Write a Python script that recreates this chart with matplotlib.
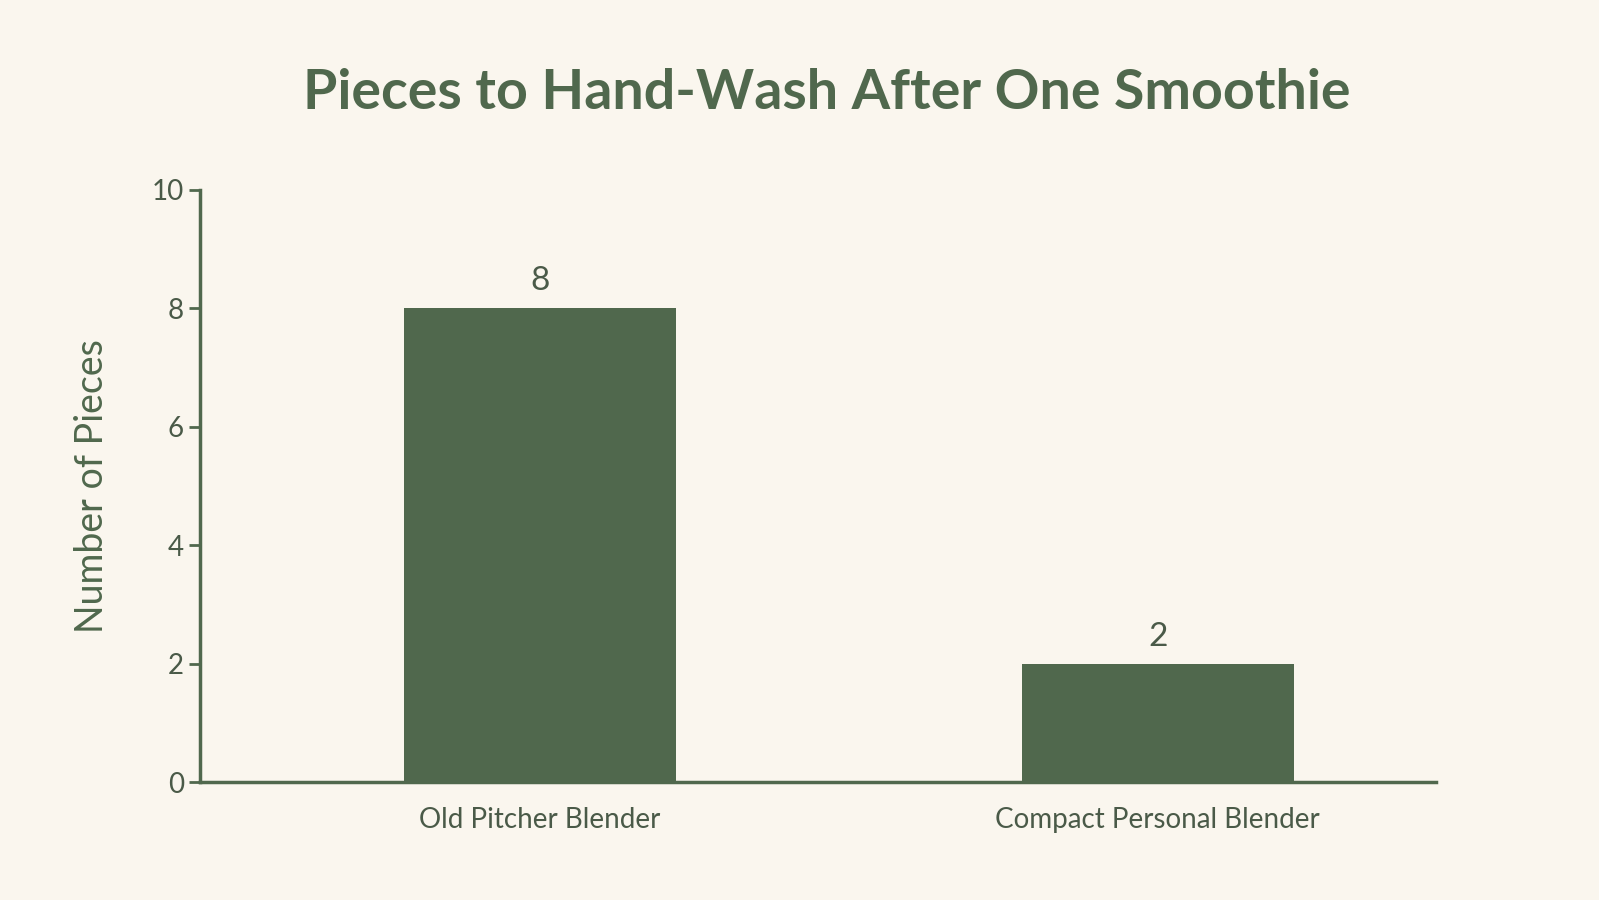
import matplotlib
matplotlib.use("Agg")
import matplotlib.pyplot as plt

categories = ["Old Pitcher Blender", "Compact Personal Blender"]
values = [8, 2]
yticks = [0, 2, 4, 6, 8, 10]

bg = "#faf6ee"
green = "#50684d"
text = "#4a5a48"

plt.rcParams['font.family'] = ['Lato', 'DejaVu Sans']
fig = plt.figure(figsize=(15.99, 9.0), dpi=100, facecolor=bg)
ax = fig.add_axes([0.125, 0.131, 0.773, 0.658], facecolor=bg)
x = [0, 1]
ax.bar(x, values, width=0.44, color=green)
for xi, v in zip(x, values):
    ax.text(xi, v + 0.2, str(v), ha='center', va='bottom', fontsize=24, color=text)
ax.set_xlim(-0.55, 1.45)
ax.set_ylim(0, 10)
ax.set_yticks(yticks)
ax.set_xticks(x)
ax.set_xticklabels(categories)
ax.tick_params(axis='both', colors=green, labelcolor=text, labelsize=20, length=8, width=2)
ax.tick_params(axis='x', length=0, pad=18)
for s in ['top', 'right']:
    ax.spines[s].set_visible(False)
for s in ['left', 'bottom']:
    ax.spines[s].set_color(green)
    ax.spines[s].set_linewidth(2.5)
ax.set_ylabel("Number of Pieces", fontsize=27, color=green, labelpad=30)
fig.text(0.517, 0.897, "Pieces to Hand-Wash After One Smoothie", ha='center', va='center',
         fontsize=40, fontweight='bold', color=green)
fig.savefig("out.png", dpi=100, facecolor=bg)
